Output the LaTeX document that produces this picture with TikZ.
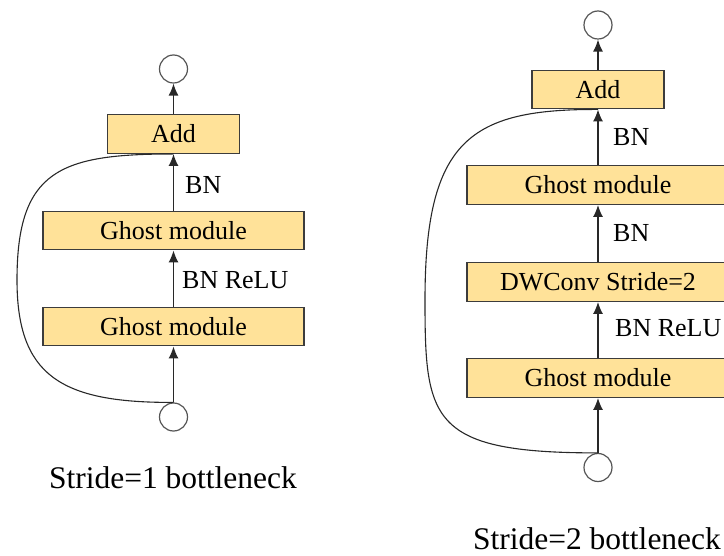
\documentclass[tikz,border=0pt]{standalone}
\usepackage{fontspec}
\setmainfont{Liberation Serif}
\usetikzlibrary{arrows.meta}
\definecolor{boxfill}{RGB}{255,226,153}
\definecolor{boxline}{RGB}{60,60,60}
\definecolor{linec}{RGB}{40,40,40}
\definecolor{circc}{RGB}{85,85,85}
\begin{document}
\begin{tikzpicture}[x=1pt,y=-1pt,
  blk/.style={draw=boxline, fill=boxfill, line width=1.4pt, minimum height=38.5pt, inner sep=0pt, font=\fontsize{26}{30}\selectfont},
  circ/.style={circle, draw=circc, line width=1.2pt, minimum size=28pt, inner sep=0pt},
  lbl/.style={anchor=west, inner sep=0pt, font=\fontsize{26}{30}\selectfont},
  captext/.style={anchor=base, inner sep=0pt, font=\fontsize{31.5}{36}\selectfont},
  arr/.style={-{Latex[length=12pt,width=10pt]}, line width=1.3pt, draw=linec},
  skip/.style={line width=1.1pt, draw=linec}]
\useasboundingbox (0,0) rectangle (724,556);
% ---------- left: stride 1 ----------
\node[circ] (lo) at (173.5,69) {};
\node[blk, minimum width=132pt] (ladd) at (173.5,134) {Add};
\node[blk, minimum width=261pt] (lg1) at (173.5,230.5) {Ghost module};
\node[blk, minimum width=261pt] (lg2) at (173.5,326.5) {Ghost module};
\node[circ] (li) at (173.5,417) {};
\node[lbl] (lbn) at (185,185) {BN};
\node[lbl] (lbr) at (182,280) {BN ReLU};
\node[captext] (lcap) at (173,489) {Stride=1 bottleneck};
\draw[arr] (li) -- (lg2);
\draw[arr] (lg2) -- (lg1);
\draw[arr] (lg1) -- (ladd);
\draw[arr] (ladd) -- (lo);
\draw[skip] (li.north) .. controls (60,403) and (17,375) .. (17,280)
  .. controls (17,170) and (60,154) .. (ladd.south);
% ---------- right: stride 2 ----------
\node[circ] (ro) at (598,25) {};
\node[blk, minimum width=132pt] (radd) at (598,89.5) {Add};
\node[blk, minimum width=262pt] (rg1) at (598,185) {Ghost module};
\node[blk, minimum width=262pt] (rdw) at (598,282) {DWConv Stride=2};
\node[blk, minimum width=262pt] (rg2) at (598,378) {Ghost module};
\node[circ] (ri) at (598,467.5) {};
\node[lbl] (rbn1) at (613,137) {BN};
\node[lbl] (rbn2) at (613,233) {BN};
\node[lbl] (rbr) at (615,328) {BN ReLU};
\node[captext] (rcap) at (597,549) {Stride=2 bottleneck};
\draw[arr] (ri) -- (rg2);
\draw[arr] (rg2) -- (rdw);
\draw[arr] (rdw) -- (rg1);
\draw[arr] (rg1) -- (radd);
\draw[arr] (radd) -- (ro);
\draw[skip] (ri.north) .. controls (430,453) and (425,420) .. (425,300)
  .. controls (425,140) and (470,109) .. (radd.south);
\end{tikzpicture}
\end{document}
